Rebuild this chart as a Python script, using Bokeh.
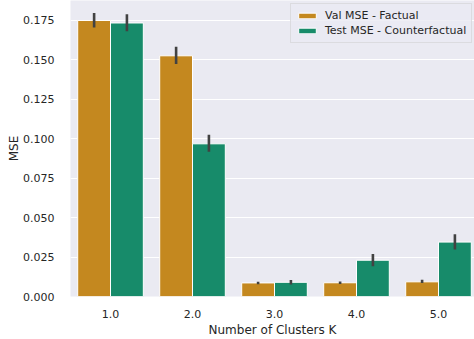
from bokeh.plotting import figure
from bokeh.models import ColumnDataSource, FixedTicker, Legend, LegendItem, Range1d
from bokeh.embed import file_html
from bokeh.resources import INLINE

k_labels = ["1.0", "2.0", "3.0", "4.0", "5.0"]
val_mse = [0.1750, 0.1526, 0.0086, 0.0087, 0.0093]
val_lo = [0.1705, 0.1474, 0.0078, 0.0079, 0.0085]
val_hi = [0.1797, 0.1583, 0.0094, 0.0095, 0.0106]
test_mse = [0.1734, 0.0968, 0.0090, 0.0230, 0.0345]
test_lo = [0.1682, 0.0918, 0.0076, 0.0191, 0.0298]
test_hi = [0.1789, 0.1025, 0.0105, 0.0270, 0.0395]
series_names = ["Val MSE - Factual", "Test MSE - Counterfactual"]
y_ticks = [0.0, 0.025, 0.05, 0.075, 0.1, 0.125, 0.15, 0.175]

VAL_C = "#c4881f"
TEST_C = "#178b6a"
ERR_C = "#424242"
TXT = "#262626"
FONT = "DejaVu Sans"

xs = list(range(len(k_labels)))
x_val = [x - 0.2 for x in xs]
x_test = [x + 0.2 for x in xs]

p = figure(width=474, height=339, output_backend="svg", toolbar_location=None,
           x_range=Range1d(-0.488, 4.439), y_range=Range1d(0, 0.18766),
           min_border_left=70, min_border_top=0, min_border_right=0, min_border_bottom=41,
           background_fill_color="#eaeaf2", border_fill_color="white", outline_line_color=None)

src_v = ColumnDataSource(dict(x=x_val, top=val_mse, lo=val_lo, hi=val_hi))
src_t = ColumnDataSource(dict(x=x_test, top=test_mse, lo=test_lo, hi=test_hi))

rv = p.vbar(x="x", top="top", width=0.4, source=src_v, fill_color=VAL_C, line_color="white", line_width=1)
rt = p.vbar(x="x", top="top", width=0.4, source=src_t, fill_color=TEST_C, line_color="white", line_width=1)
p.segment(x0="x", x1="x", y0="lo", y1="hi", source=src_v, line_color=ERR_C, line_width=2.6)
p.segment(x0="x", x1="x", y0="lo", y1="hi", source=src_t, line_color=ERR_C, line_width=2.6)

p.xgrid.visible = False
p.ygrid.grid_line_color = "white"
p.ygrid.grid_line_width = 1.2
p.ygrid.ticker = FixedTicker(ticks=y_ticks)

p.xaxis.ticker = FixedTicker(ticks=xs)
p.xaxis.major_label_overrides = {x: lab for x, lab in zip(xs, k_labels)}
p.yaxis.ticker = FixedTicker(ticks=y_ticks)
p.yaxis.major_label_overrides = {t: f"{t:.3f}" for t in y_ticks}

for ax in (p.xaxis[0], p.yaxis[0]):
    ax.axis_line_color = None
    ax.major_tick_line_color = None
    ax.minor_tick_line_color = None
    ax.major_label_text_font = FONT
    ax.major_label_text_font_size = "11px"
    ax.major_label_text_color = TXT
    ax.axis_label_text_font = FONT
    ax.axis_label_text_font_size = "12px"
    ax.axis_label_text_font_style = "normal"
    ax.axis_label_text_color = TXT

p.xaxis.axis_label = "Number of Clusters K"
p.yaxis.axis_label = "MSE"
p.xaxis.major_label_standoff = 7
p.yaxis.major_label_standoff = 10
p.xaxis.axis_label_standoff = 2
p.yaxis.axis_label_standoff = -1

legend = Legend(items=[LegendItem(label=series_names[0], renderers=[rv]),
                       LegendItem(label=series_names[1], renderers=[rt])],
                location=(220, 253), orientation="vertical",
                background_fill_color="#eaeaf2", background_fill_alpha=0.8,
                border_line_color="#cccccc", border_line_width=1,
                label_text_font=FONT, label_text_font_size="11px", label_text_color=TXT,
                glyph_width=22, glyph_height=7, label_height=12, spacing=2,
                padding=5, margin=0, label_standoff=7)
p.add_layout(legend, "center")

open("out.html", "w").write(file_html(p, INLINE))
